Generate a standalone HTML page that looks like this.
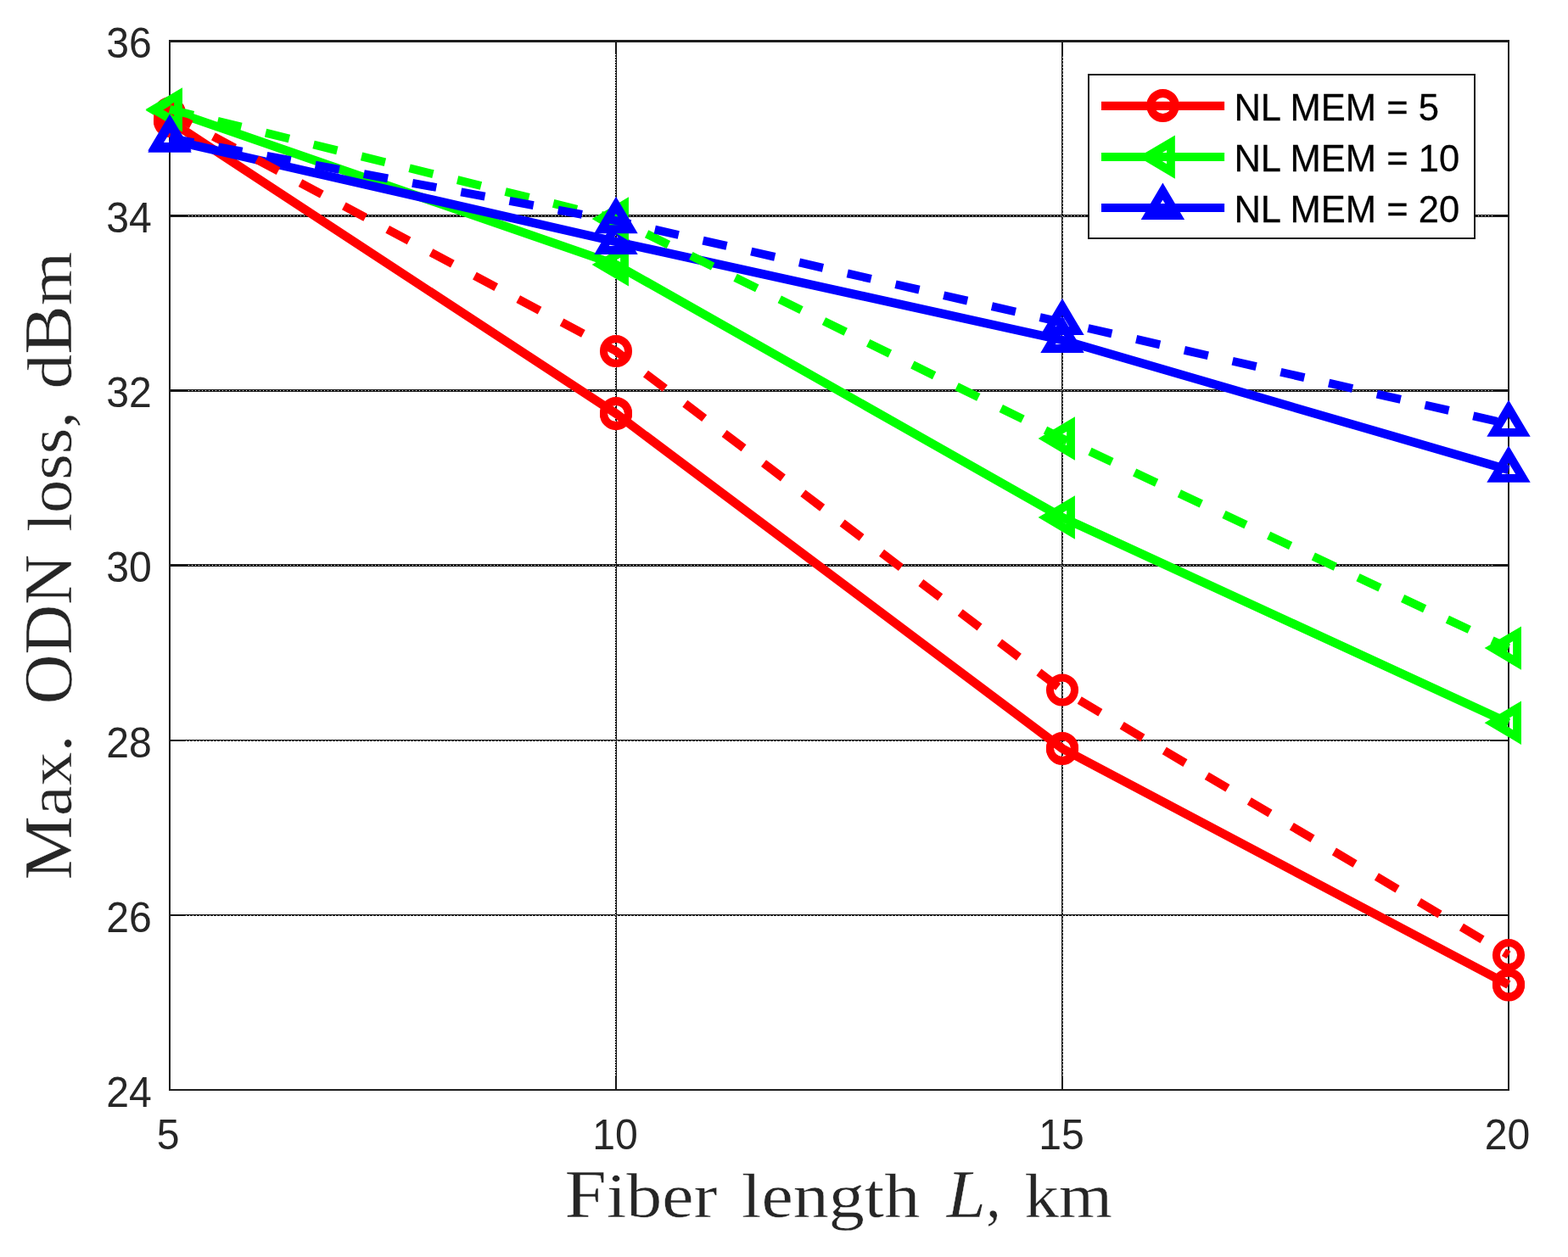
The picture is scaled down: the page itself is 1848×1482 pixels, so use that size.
<!DOCTYPE html>
<html lang="en">
<head>
<meta charset="utf-8">
<title>Max. ODN loss vs fiber length</title>
<style>
html, body { margin: 0; padding: 0; background: #ffffff; }
body { width: 1848px; height: 1482px; overflow: hidden; }
svg { display: block; }
</style>
</head>
<body>
<svg width="1848" height="1482" viewBox="0 0 1848 1482" role="img" aria-label="Max. ODN loss versus fiber length">
<rect x="0" y="0" width="1848" height="1482" fill="#ffffff"/>
<g id="grid">
<rect x="200" y="253" width="1578" height="3" fill="#161616"/>
<line x1="222" y1="254.5" x2="1759" y2="254.5" stroke="#ffffff" stroke-width="1" stroke-dasharray="1 3"/>
<rect x="200" y="459" width="1578" height="3" fill="#161616"/>
<line x1="222" y1="460.5" x2="1759" y2="460.5" stroke="#ffffff" stroke-width="1" stroke-dasharray="1 3"/>
<rect x="200" y="665" width="1578" height="3" fill="#161616"/>
<line x1="222" y1="666.5" x2="1759" y2="666.5" stroke="#ffffff" stroke-width="1" stroke-dasharray="1 3"/>
<rect x="200" y="872" width="1578" height="2" fill="#161616"/>
<line x1="219" y1="873.5" x2="1759" y2="873.5" stroke="#ffffff" stroke-width="1" stroke-dasharray="1 3"/>
<rect x="200" y="1078" width="1578" height="2" fill="#161616"/>
<line x1="219" y1="1079.5" x2="1759" y2="1079.5" stroke="#ffffff" stroke-width="1" stroke-dasharray="1 3"/>
<rect x="725" y="49" width="2" height="1236" fill="#161616"/>
<line x1="725.5" y1="64" x2="725.5" y2="1270" stroke="#ffffff" stroke-width="1" stroke-dasharray="1 2"/>
<rect x="1251" y="49" width="2" height="1236" fill="#161616"/>
<line x1="1252.5" y1="67" x2="1252.5" y2="1270" stroke="#ffffff" stroke-width="1" stroke-dasharray="1 3"/>
</g>
<g id="axes">
<rect x="199" y="47" width="1580" height="3" fill="#1e1e1e"/>
<rect x="199" y="1284" width="1580" height="2" fill="#1e1e1e"/>
<rect x="199" y="47" width="2" height="1239" fill="#1e1e1e"/>
<rect x="1777" y="47" width="2" height="1239" fill="#1e1e1e"/>
</g>
<g id="data">
<polyline points="200,142.4 726,487.6 1252,882.5 1778,1161" fill="none" stroke="#ff0000" stroke-width="10.4" stroke-linejoin="miter" stroke-linecap="butt"/>
<circle cx="200" cy="141.85" r="14.55" fill="none" stroke="#ff0000" stroke-width="9"/><circle cx="200" cy="142.95" r="14.55" fill="none" stroke="#ff0000" stroke-width="9"/>
<circle cx="726" cy="487.05" r="14.55" fill="none" stroke="#ff0000" stroke-width="9"/><circle cx="726" cy="488.15" r="14.55" fill="none" stroke="#ff0000" stroke-width="9"/>
<circle cx="1252" cy="881.95" r="14.55" fill="none" stroke="#ff0000" stroke-width="9"/><circle cx="1252" cy="883.05" r="14.55" fill="none" stroke="#ff0000" stroke-width="9"/>
<circle cx="1778" cy="1160.45" r="14.55" fill="none" stroke="#ff0000" stroke-width="9"/><circle cx="1778" cy="1161.55" r="14.55" fill="none" stroke="#ff0000" stroke-width="9"/>
<polyline points="200,129.9 726,311.9 1252,610 1778,852.2" fill="none" stroke="#00ff00" stroke-width="10.4" stroke-linejoin="miter" stroke-linecap="butt"/>
<path d="M171.6 129.9 L214.95 104.2 L214.95 155.6 Z M191.65 129.9 L205.1 121.72 L205.1 138.08 Z" fill="#00ff00" fill-rule="evenodd"/>
<path d="M697.6 311.9 L740.95 286.2 L740.95 337.6 Z M717.65 311.9 L731.1 303.72 L731.1 320.08 Z" fill="#00ff00" fill-rule="evenodd"/>
<path d="M1223.6 610 L1266.95 584.3 L1266.95 635.7 Z M1243.65 610 L1257.1 601.82 L1257.1 618.18 Z" fill="#00ff00" fill-rule="evenodd"/>
<path d="M1749.6 852.2 L1792.95 826.5 L1792.95 877.9 Z M1769.65 852.2 L1783.1 844.02 L1783.1 860.38 Z" fill="#00ff00" fill-rule="evenodd"/>
<polyline points="200,164.9 726,284.95 1252,400.95 1778,553.9" fill="none" stroke="#0000ff" stroke-width="10.4" stroke-linejoin="miter" stroke-linecap="butt"/>
<path d="M200 136.5 L225.7 179.85 L174.3 179.85 Z M200 156.55 L208.18 170 L191.82 170 Z" fill="#0000ff" fill-rule="evenodd"/>
<path d="M726 256.55 L751.7 299.9 L700.3 299.9 Z M726 276.6 L734.18 290.05 L717.82 290.05 Z" fill="#0000ff" fill-rule="evenodd"/>
<path d="M1252 372.55 L1277.7 415.9 L1226.3 415.9 Z M1252 392.6 L1260.18 406.05 L1243.82 406.05 Z" fill="#0000ff" fill-rule="evenodd"/>
<path d="M1778 525.5 L1803.7 568.85 L1752.3 568.85 Z M1778 545.55 L1786.18 559 L1769.82 559 Z" fill="#0000ff" fill-rule="evenodd"/>
<polyline points="200,133.4 726,414 1252,813.5 1778,1126.1" fill="none" stroke="#ff0000" stroke-width="9.9" stroke-linejoin="miter" stroke-linecap="butt" stroke-dasharray="28.7 29.49"/>
<circle cx="200" cy="133.4" r="14.55" fill="none" stroke="#ff0000" stroke-width="9"/>
<circle cx="726" cy="414" r="14.55" fill="none" stroke="#ff0000" stroke-width="9"/>
<circle cx="1252" cy="813.5" r="14.55" fill="none" stroke="#ff0000" stroke-width="9"/>
<circle cx="1778" cy="1126.1" r="14.55" fill="none" stroke="#ff0000" stroke-width="9"/>
<polyline points="200,128.9 726,258 1252,517 1778,764.1" fill="none" stroke="#00ff00" stroke-width="9.9" stroke-linejoin="miter" stroke-linecap="butt" stroke-dasharray="28.7 29.49"/>
<path d="M171.6 128.9 L214.95 103.2 L214.95 154.6 Z M191.65 128.9 L205.1 120.72 L205.1 137.08 Z" fill="#00ff00" fill-rule="evenodd"/>
<path d="M697.6 258 L740.95 232.3 L740.95 283.7 Z M717.65 258 L731.1 249.82 L731.1 266.18 Z" fill="#00ff00" fill-rule="evenodd"/>
<path d="M1223.6 517 L1266.95 491.3 L1266.95 542.7 Z M1243.65 517 L1257.1 508.82 L1257.1 525.18 Z" fill="#00ff00" fill-rule="evenodd"/>
<path d="M1749.6 764.1 L1792.95 738.4 L1792.95 789.8 Z M1769.65 764.1 L1783.1 755.92 L1783.1 772.28 Z" fill="#00ff00" fill-rule="evenodd"/>
<polyline points="200,162.8 726,260.2 1252,380.1 1778,499.9" fill="none" stroke="#0000ff" stroke-width="9.9" stroke-linejoin="miter" stroke-linecap="butt" stroke-dasharray="28.7 29.49"/>
<path d="M200 134.4 L225.7 177.75 L174.3 177.75 Z M200 154.45 L208.18 167.9 L191.82 167.9 Z" fill="#0000ff" fill-rule="evenodd"/>
<path d="M726 231.8 L751.7 275.15 L700.3 275.15 Z M726 251.85 L734.18 265.3 L717.82 265.3 Z" fill="#0000ff" fill-rule="evenodd"/>
<path d="M1252 351.7 L1277.7 395.05 L1226.3 395.05 Z M1252 371.75 L1260.18 385.2 L1243.82 385.2 Z" fill="#0000ff" fill-rule="evenodd"/>
<path d="M1778 471.5 L1803.7 514.85 L1752.3 514.85 Z M1778 491.55 L1786.18 505 L1769.82 505 Z" fill="#0000ff" fill-rule="evenodd"/>
</g>
<g id="legend" font-family="'Liberation Sans', Arial, Helvetica, sans-serif">
<rect x="1282" y="87" width="457" height="195" fill="#161616"/>
<rect x="1284" y="89" width="453" height="191" fill="#ffffff"/>
<line x1="1298" y1="124.9" x2="1443.1" y2="124.9" stroke="#ff0000" stroke-width="10.1"/>
<circle cx="1370.5" cy="123.95" r="14.55" fill="none" stroke="#ff0000" stroke-width="9"/><circle cx="1370.5" cy="125.05" r="14.55" fill="none" stroke="#ff0000" stroke-width="9"/>
<text transform="translate(1454.4,142.3) scale(0.992,1.02)" font-size="43.9" fill="#000000" stroke="#000000" stroke-width="0.25">NL MEM = 5</text>
<line x1="1298" y1="185" x2="1443.1" y2="185" stroke="#00ff00" stroke-width="10.1"/>
<path d="M1341.5 185.1 L1384.85 159.4 L1384.85 210.8 Z M1361.55 185.1 L1375 176.92 L1375 193.28 Z" fill="#00ff00" fill-rule="evenodd"/>
<text transform="translate(1454.4,202) scale(0.992,1.02)" font-size="43.9" fill="#000000" stroke="#000000" stroke-width="0.25">NL MEM = 10</text>
<line x1="1298" y1="245" x2="1443.1" y2="245" stroke="#0000ff" stroke-width="10.1"/>
<path d="M1370.4 215.6 L1396.1 258.95 L1344.7 258.95 Z M1370.4 235.65 L1378.58 249.1 L1362.22 249.1 Z" fill="#0000ff" fill-rule="evenodd"/>
<text transform="translate(1454.4,262) scale(0.992,1.02)" font-size="43.9" fill="#000000" stroke="#000000" stroke-width="0.25">NL MEM = 20</text>
</g>
<g id="ticklabels" fill="#262626" font-family="'Liberation Sans', Arial, Helvetica, sans-serif">
<text transform="translate(178.7,68.4) scale(0.99,1.03)" font-size="48.6" text-anchor="end">36</text>
<text transform="translate(178.7,274.4) scale(0.99,1.03)" font-size="48.6" text-anchor="end">34</text>
<text transform="translate(178.7,480.4) scale(0.99,1.03)" font-size="48.6" text-anchor="end">32</text>
<text transform="translate(178.7,686.4) scale(0.99,1.03)" font-size="48.6" text-anchor="end">30</text>
<text transform="translate(178.7,892.8) scale(0.99,1.03)" font-size="48.6" text-anchor="end">28</text>
<text transform="translate(178.7,1098.9) scale(0.99,1.03)" font-size="48.6" text-anchor="end">26</text>
<text transform="translate(178.7,1304.9) scale(0.99,1.03)" font-size="48.6" text-anchor="end">24</text>
<text transform="translate(198,1354.9) scale(0.99,1.03)" font-size="48.6" text-anchor="middle">5</text>
<text transform="translate(725,1354.9) scale(0.99,1.03)" font-size="48.6" text-anchor="middle">10</text>
<text transform="translate(1251,1354.9) scale(0.99,1.03)" font-size="48.6" text-anchor="middle">15</text>
<text transform="translate(1776.5,1354.9) scale(0.99,1.03)" font-size="48.6" text-anchor="middle">20</text>
</g>
<g id="labels" fill="#262626" stroke="#ffffff" stroke-width="0.4" font-family="'Liberation Serif', 'Times New Roman', serif">
<text y="1435.1" font-size="75"><tspan x="665.48" textLength="179.86" lengthAdjust="spacingAndGlyphs"><tspan font-size="79.5">F</tspan>iber</tspan> <tspan x="874.12" textLength="210.17" lengthAdjust="spacingAndGlyphs">length</tspan> <tspan x="1115.84" textLength="46.03" lengthAdjust="spacingAndGlyphs" font-style="italic"><tspan font-size="79.5">L</tspan></tspan><tspan x="1162.16" textLength="17.33" lengthAdjust="spacingAndGlyphs">,</tspan> <tspan x="1207.58" textLength="103.5" lengthAdjust="spacingAndGlyphs">km</tspan></text>
<text transform="translate(83.6,0) rotate(-90)" y="0" font-size="75"><tspan x="-1037.6" textLength="171.04" lengthAdjust="spacingAndGlyphs"><tspan font-size="79.5">M</tspan>ax.</tspan> <tspan x="-830.32" textLength="176.23" lengthAdjust="spacingAndGlyphs"><tspan font-size="79.5">ODN</tspan></tspan> <tspan x="-626.67" textLength="141.6" lengthAdjust="spacingAndGlyphs">loss,</tspan> <tspan x="-458.59" textLength="161.76" lengthAdjust="spacingAndGlyphs">d<tspan font-size="79.5">B</tspan>m</tspan></text>
</g>
</svg>
</body>
</html>
